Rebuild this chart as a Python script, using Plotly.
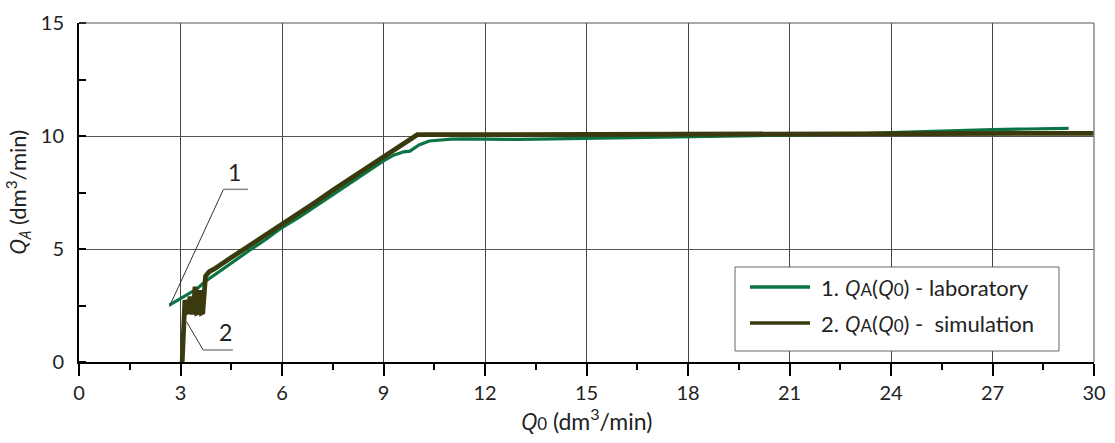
import plotly.graph_objects as go

# ---- data ----
lab_q0 = [2.67, 3.0, 3.5, 3.72, 4.0, 4.5, 5.0, 5.5, 6.0, 6.5, 7.0, 7.5, 8.0, 8.5, 9.0,
          9.3, 9.6, 9.78, 10.05, 10.35, 10.7, 11.0, 11.4, 12.0, 12.5, 13.0, 14.0, 15.0,
          16.0, 17.0, 18.0, 19.0, 20.0, 21.0, 22.0, 23.0, 24.0, 25.0, 26.0, 27.0, 28.0, 29.25]
lab_qa = [2.52, 2.8, 3.25, 3.55, 3.85, 4.35, 4.9, 5.4, 5.95, 6.4, 6.9, 7.4, 7.9, 8.4, 8.9,
          9.15, 9.3, 9.33, 9.6, 9.78, 9.84, 9.86, 9.87, 9.86, 9.84, 9.85, 9.87, 9.9,
          9.92, 9.95, 9.97, 10.0, 10.02, 10.04, 10.06, 10.1, 10.15, 10.2, 10.24, 10.28, 10.31, 10.34]

sim_q0 = [3.05, 3.09, 3.13, 3.2, 3.23, 3.28, 3.33, 3.38, 3.43, 3.48, 3.53, 3.58, 3.62, 3.66,
          3.7, 3.74, 3.85, 4.0, 4.5, 5.0, 5.5, 6.0, 6.5, 7.0, 7.5, 8.0, 8.5, 9.0, 9.5,
          10.0, 12.0, 15.0, 18.0, 21.0, 24.0, 27.0, 30.0]
sim_qa = [0.0, 1.4, 2.74, 2.2, 2.15, 2.9, 2.2, 2.2, 3.33, 2.17, 2.2, 3.18, 2.17, 2.2,
          3.5, 3.8, 4.0, 4.12, 4.62, 5.1, 5.6, 6.08, 6.58, 7.08, 7.6, 8.1, 8.58, 9.05, 9.55,
          10.06, 10.06, 10.07, 10.08, 10.09, 10.1, 10.11, 10.12]

x_ticks = [0, 3, 6, 9, 12, 15, 18, 21, 24, 27, 30]
y_ticks = [0, 5, 10, 15]

ITQ = "<span style='font-style:italic;font-family:Open Sans'>Q</span>"
lab_name = "1. " + ITQ + "<span style='font-size:17px'>A</span>(" + ITQ + "<span style='font-size:17px'>0</span>) - laboratory"
sim_name = "2. " + ITQ + "<span style='font-size:17px'>A</span>(" + ITQ + "<span style='font-size:17px'>0</span>) -  simulation"

# leader lines for curve labels (data coords)
lead1_x = [2.67, 4.27, 5.0]
lead1_y = [2.45, 7.64, 7.64]
lead2_x = [3.18, 3.67, 4.55]
lead2_y = [1.78, 0.53, 0.53]

GREEN = "#0c7444"
OLIVE = "#3a3a0e"
FONT = "Lato"

W, H = 1115, 443
L, R, T, B = 79, 1094, 23, 362


def px(x):
    return (x - L) / (R - L)


def py(y):
    return (B - y) / (B - T)


fig = go.Figure()
fig.add_trace(go.Scatter(x=lab_q0, y=lab_qa, mode="lines", name="laboratory",
                         line=dict(color=GREEN, width=3.2), showlegend=False))
fig.add_trace(go.Scatter(x=sim_q0, y=sim_qa, mode="lines", name="simulation",
                         line=dict(color=OLIVE, width=4.8), showlegend=False))

shapes = []
# top and right border
shapes.append(dict(type="line", xref="paper", yref="paper", x0=0, x1=1, y0=1, y1=1,
                   line=dict(color="#555", width=1)))
shapes.append(dict(type="line", xref="paper", yref="paper", x0=1, x1=1, y0=0, y1=1,
                   line=dict(color="#888", width=1.5)))
# leader lines
for xs, ys in ((lead1_x, lead1_y), (lead2_x, lead2_y)):
    shapes.append(dict(type="line", xref="x", yref="y", x0=xs[0], y0=ys[0], x1=xs[1], y1=ys[1],
                       line=dict(color="#333", width=1)))
    shapes.append(dict(type="line", xref="x", yref="y", x0=xs[1], y0=ys[1], x1=xs[2], y1=ys[2],
                       line=dict(color="#888", width=1.5)))
# custom legend box
shapes.append(dict(type="rect", xref="paper", yref="paper", x0=px(735), x1=px(1059),
                   y0=py(351), y1=py(267), fillcolor="white",
                   line=dict(color="#666", width=1)))
for yy, col in ((287, GREEN), (323, OLIVE)):
    shapes.append(dict(type="line", xref="paper", yref="paper", x0=px(750), x1=px(810),
                       y0=py(yy), y1=py(yy), line=dict(color=col, width=3.5)))

annotations = []
for yy, txt in ((287, lab_name), (323, sim_name)):
    annotations.append(dict(xref="paper", yref="paper", x=px(819), y=py(yy), text=txt,
                            showarrow=False, xanchor="left", yanchor="middle",
                            font=dict(family=FONT, size=22, color="#222")))
annotations.append(dict(xref="x", yref="y", x=4.61, y=8.42, text="1", showarrow=False,
                        font=dict(family=FONT, size=23, color="#222")))
annotations.append(dict(xref="x", yref="y", x=4.32, y=1.34, text="2", showarrow=False,
                        font=dict(family=FONT, size=23, color="#222")))

fig.update_layout(
    width=W, height=H,
    margin=dict(l=L, r=W - R, t=T, b=H - B),
    paper_bgcolor="white", plot_bgcolor="white",
    font=dict(family=FONT, size=20, color="#222"),
    shapes=shapes, annotations=annotations,
    showlegend=False,
)
fig.update_xaxes(
    range=[0, 30], tickvals=x_ticks, ticktext=[str(v) for v in x_ticks],
    showgrid=True, gridcolor="#444", gridwidth=1,
    showline=True, linecolor="black", linewidth=2,
    ticks="outside", ticklen=12, tickwidth=2, tickcolor="black",
    minor=dict(dtick=1.5, tick0=0, ticks="outside", ticklen=6, tickwidth=2, tickcolor="black", showgrid=False),
    tickfont=dict(family=FONT, size=20, color="#222"),
    title=dict(text=ITQ + "<span style='font-size:17px'>0</span> (dm<sup>3</sup>/min)",
               font=dict(family=FONT, size=23, color="#222"), standoff=4),
    zeroline=False, automargin=False,
)
fig.update_yaxes(
    range=[0, 15], tickvals=y_ticks, ticktext=[str(v) for v in y_ticks],
    showgrid=True, gridcolor="#555", gridwidth=1,
    showline=True, linecolor="black", linewidth=2,
    ticks="", ticklabelstandoff=9,
    minor=dict(dtick=2.5, tick0=0, ticks="inside", ticklen=7, tickwidth=2, tickcolor="black", showgrid=False),
    tickfont=dict(family=FONT, size=20, color="#222"),
    title=dict(text="<span style='font-style:italic;font-family:Open Sans'>Q<sub>A</sub></span> (dm<sup>3</sup>/min)",
               font=dict(family=FONT, size=22, color="#222"), standoff=8),
    zeroline=False, automargin=False,
)

fig.write_html("out.html", config={"displayModeBar": False},
               post_script="document.body.style.margin='0';")
